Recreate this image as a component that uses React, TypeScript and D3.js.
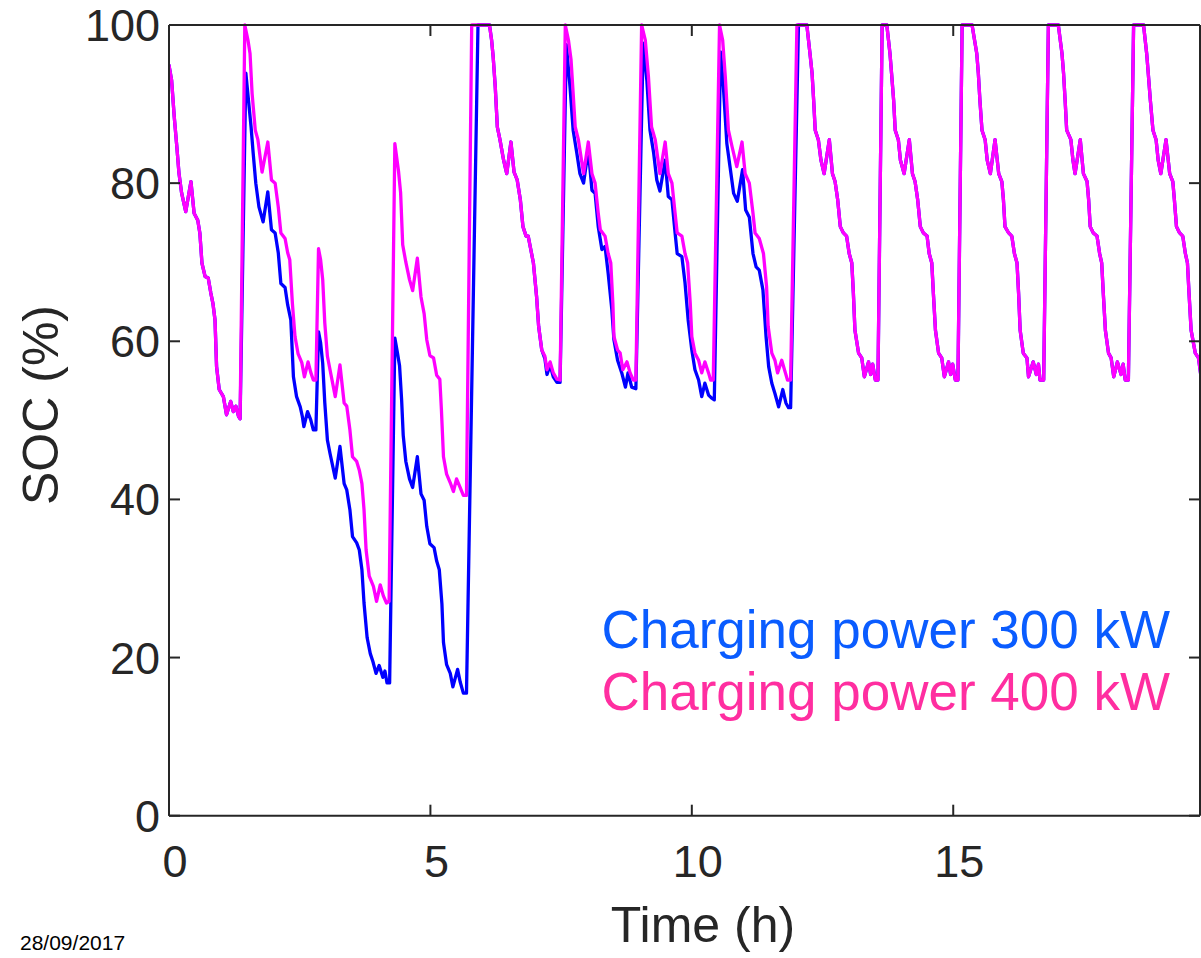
import React from "react";
import * as d3 from "d3";

// ---- Data (time in hours, SOC in %) ----
// First trip: identical for both charging powers
const tripShared: [number, number][] = [
  [0.0, 94.9], [0.05, 93], [0.1, 88.4], [0.15, 84.6], [0.19, 81.3], [0.24, 78.8], [0.32, 76.4],
  [0.42, 80.2], [0.48, 76.2], [0.55, 75.3], [0.59, 73.7], [0.63, 69.9], [0.69, 68.2], [0.75, 68],
  [0.8, 66.1], [0.84, 64.8], [0.88, 62.7], [0.91, 56.8], [0.96, 53.9], [1.04, 53], [1.1, 50.7],
  [1.18, 52.4], [1.23, 51.1], [1.28, 51.8], [1.33, 50.5], [1.36, 50.2],
];

// 400 kW until 12.2 h
const soc400Mid: [number, number][] = [
  [1.45, 100], [1.51, 98.1], [1.55, 96.4], [1.59, 91.3], [1.65, 86.7], [1.7, 85.5], [1.78, 81.4],
  [1.89, 85.2], [1.96, 80.4], [2.03, 80], [2.09, 77], [2.14, 73.7], [2.22, 73], [2.27, 71.2],
  [2.31, 70.3], [2.36, 64.8], [2.41, 60.6], [2.47, 58.4], [2.54, 57.3], [2.59, 55.5], [2.66, 57.4],
  [2.71, 56.1], [2.76, 55.1], [2.81, 55.1], [2.86, 71.7], [2.9, 70.3], [2.94, 67.8], [2.98, 62.3],
  [3.03, 58.1], [3.08, 56.4], [3.18, 53], [3.27, 57], [3.35, 52.2], [3.4, 51.8], [3.46, 48.8],
  [3.51, 45.4], [3.59, 44.8], [3.64, 43.7], [3.69, 42], [3.73, 38.7], [3.77, 33.6], [3.83, 30.3],
  [3.91, 29], [3.97, 27.1], [4.04, 29.2], [4.1, 27.8], [4.16, 26.9], [4.21, 27.1], [4.32, 85],
  [4.39, 81.5], [4.43, 78.8], [4.47, 72.2], [4.53, 70], [4.6, 67.8], [4.66, 66.4], [4.75, 70.5],
  [4.82, 65.6], [4.88, 63.5], [4.93, 60.2], [4.99, 58.2], [5.06, 57.9], [5.12, 55.7], [5.18, 55.2],
  [5.21, 51.4], [5.25, 45.4], [5.31, 43.2], [5.38, 42.1], [5.44, 41], [5.5, 42.6], [5.57, 41.5],
  [5.63, 40.5], [5.69, 40.5], [5.79, 100], [6.13, 100], [6.17, 98.1], [6.2, 96], [6.24, 92.2],
  [6.28, 87.1], [6.33, 85.5], [6.4, 82.9], [6.46, 81.2], [6.54, 85.2], [6.6, 81.4], [6.66, 80.4],
  [6.72, 77.9], [6.77, 74.5], [6.83, 73.3], [6.87, 73.3], [6.92, 71.6], [6.97, 69.9], [7.03, 65.7],
  [7.07, 61.9], [7.13, 58.9], [7.19, 58.1], [7.23, 56.4], [7.29, 57.4], [7.35, 56], [7.42, 55.2],
  [7.48, 55.1], [7.58, 100], [7.64, 98.1], [7.69, 95.6], [7.73, 91.4], [7.77, 87.1], [7.83, 85.5],
  [7.93, 81.2], [8.02, 85.2], [8.09, 81.2], [8.15, 80], [8.21, 76.2], [8.25, 74.1], [8.34, 73.3],
  [8.4, 71.1], [8.45, 69.9], [8.49, 64.8], [8.51, 60.6], [8.58, 58.9], [8.63, 58.5], [8.68, 56.4],
  [8.76, 57.4], [8.82, 56], [8.88, 55.1], [8.93, 55.1], [9.04, 100], [9.11, 98.1], [9.17, 93.5],
  [9.23, 87.1], [9.3, 85.5], [9.39, 81.2], [9.49, 85.2], [9.55, 81.2], [9.62, 80], [9.68, 76.2],
  [9.72, 73.7], [9.81, 73.3], [9.87, 71.1], [9.92, 69.9], [9.97, 64.8], [10.0, 60.6], [10.06, 58.5],
  [10.13, 57.6], [10.19, 56], [10.25, 57.4], [10.32, 56], [10.36, 55.1], [10.41, 55.1], [10.53, 100],
  [10.59, 98.1], [10.64, 93.5], [10.7, 86.7], [10.77, 84.6], [10.86, 82.1], [10.96, 85.2],
  [11.02, 81.2], [11.1, 80], [11.17, 76.2], [11.21, 73.7], [11.29, 73], [11.37, 71.1], [11.43, 66.9],
  [11.46, 61.9], [11.53, 58.5], [11.59, 57.6], [11.64, 56], [11.72, 57.6], [11.79, 56], [11.83, 55.1],
  [11.89, 55.1], [12.01, 100],
];

// 300 kW until 12.2 h
const soc300Mid: [number, number][] = [
  [1.47, 93.9], [1.52, 90.5], [1.57, 87.1], [1.61, 83.8], [1.66, 80], [1.72, 77], [1.8, 75.1],
  [1.89, 78.9], [1.96, 74.1], [2.03, 73.7], [2.09, 71.2], [2.14, 67.3], [2.22, 66.8], [2.27, 64.6],
  [2.33, 62.7], [2.38, 55.5], [2.44, 53], [2.51, 51.7], [2.55, 50.5], [2.58, 49.2], [2.65, 51.1],
  [2.71, 50.1], [2.76, 48.8], [2.81, 48.8], [2.86, 61.2], [2.9, 59.8], [2.94, 57.2], [2.98, 52.2],
  [3.03, 47.5], [3.08, 45.8], [3.18, 42.7], [3.27, 46.7], [3.35, 42], [3.4, 41.2], [3.46, 38.7],
  [3.51, 35.3], [3.59, 34.5], [3.64, 33.6], [3.69, 31.1], [3.73, 26.9], [3.79, 22.5], [3.85, 20.5],
  [3.9, 19.5], [3.96, 18], [4.02, 19], [4.09, 17.5], [4.13, 18.3], [4.17, 16.8], [4.22, 16.8],
  [4.32, 60.4], [4.37, 58.5], [4.41, 56.9], [4.45, 52.5], [4.48, 48.1], [4.53, 44.8], [4.6, 42.6],
  [4.66, 41.5], [4.75, 45.4], [4.82, 40.7], [4.88, 39.9], [4.93, 36.6], [4.99, 34.4], [5.07, 33.9],
  [5.12, 32.2], [5.17, 31.1], [5.22, 26.8], [5.25, 21.9], [5.31, 19.1], [5.38, 18], [5.43, 16.3],
  [5.52, 18.5], [5.57, 16.9], [5.63, 15.5], [5.69, 15.5], [5.91, 100], [6.13, 100], [6.17, 98.1],
  [6.2, 96], [6.24, 92.2], [6.28, 87.1], [6.33, 85.5], [6.4, 82.9], [6.46, 81.2], [6.54, 85.2],
  [6.6, 81.4], [6.66, 80.4], [6.72, 77.9], [6.77, 74.5], [6.83, 73.3], [6.87, 73.3], [6.92, 71.6],
  [6.97, 69.9], [7.03, 65.7], [7.07, 61.9], [7.13, 58.9], [7.19, 57.8], [7.23, 55.8], [7.29, 57],
  [7.35, 55.5], [7.42, 54.8], [7.48, 54.8], [7.6, 97.5], [7.67, 92.2], [7.73, 86.7], [7.8, 83.8],
  [7.86, 81.2], [7.93, 80], [8.02, 84.2], [8.09, 79.1], [8.15, 78.7], [8.21, 74.5], [8.28, 71.6],
  [8.34, 72], [8.4, 68.6], [8.47, 64], [8.51, 60.2], [8.58, 57.6], [8.66, 56], [8.73, 54.2],
  [8.78, 56], [8.85, 54.2], [8.93, 54], [9.07, 97.7], [9.14, 93], [9.2, 86.7], [9.27, 83.8],
  [9.33, 80.4], [9.39, 79], [9.49, 82.9], [9.55, 78.3], [9.62, 77.9], [9.68, 73.7], [9.72, 71.1],
  [9.81, 70.7], [9.87, 67.4], [9.93, 62.7], [10.0, 58.9], [10.06, 56.4], [10.13, 55.1], [10.19, 53],
  [10.25, 54.7], [10.32, 53.2], [10.38, 52.8], [10.43, 52.6], [10.55, 96.6], [10.6, 92.6],
  [10.67, 85], [10.73, 82.1], [10.8, 78.7], [10.87, 77.7], [10.97, 81.7], [11.03, 76.6],
  [11.1, 75.7], [11.17, 71.1], [11.23, 69.4], [11.29, 69], [11.36, 66.5], [11.42, 60.6],
  [11.47, 56.8], [11.53, 54.7], [11.59, 53.4], [11.66, 51.7], [11.74, 53.9], [11.8, 52.2],
  [11.85, 51.6], [11.89, 51.6], [12.04, 100],
];

// From 12.2 h both charging powers follow the same trace
const lateShared: [number, number][] = [
  [12.2, 100], [12.26, 96.4], [12.3, 93.9], [12.33, 90.5], [12.36, 86.7], [12.42, 85.5], [12.47, 82.9],
  [12.53, 81.2], [12.63, 85.5], [12.69, 81.2], [12.74, 80.2], [12.79, 77.9], [12.84, 74.5],
  [12.9, 73.7], [12.96, 73.3], [13.01, 71.1], [13.06, 69.9], [13.09, 66.1], [13.12, 61.4],
  [13.19, 58.5], [13.25, 57.9], [13.3, 55.5], [13.38, 57.4], [13.42, 55.8], [13.46, 57.1],
  [13.51, 55.1], [13.56, 55.1], [13.64, 100], [13.73, 100], [13.79, 96.4], [13.82, 93.9],
  [13.86, 90.5], [13.89, 86.7], [13.95, 85.5], [13.99, 82.9], [14.06, 81.2], [14.16, 85.5],
  [14.22, 81.2], [14.27, 80.2], [14.32, 77.9], [14.37, 74.5], [14.43, 73.7], [14.5, 73.3],
  [14.54, 71.1], [14.59, 69.9], [14.62, 66.1], [14.66, 61.4], [14.72, 58.5], [14.78, 57.9],
  [14.83, 55.5], [14.91, 57.4], [14.95, 55.8], [14.99, 57.1], [15.04, 55.1], [15.09, 55.1],
  [15.17, 100], [15.36, 100], [15.45, 96.4], [15.48, 93.9], [15.51, 90.5], [15.55, 86.7],
  [15.61, 85.5], [15.65, 82.9], [15.71, 81.2], [15.8, 85.5], [15.87, 81.2], [15.93, 80.2],
  [15.96, 77.9], [15.99, 74.5], [16.06, 73.7], [16.12, 73.3], [16.17, 71.1], [16.22, 69.9],
  [16.25, 66.1], [16.28, 61.4], [16.34, 58.5], [16.41, 57.9], [16.44, 55.5], [16.53, 57.4],
  [16.59, 55.8], [16.63, 57.1], [16.66, 55.1], [16.73, 55.1], [16.82, 100], [17.01, 100],
  [17.08, 96.4], [17.11, 93.9], [17.14, 90.5], [17.17, 86.7], [17.25, 85.5], [17.29, 82.9],
  [17.33, 81.2], [17.43, 85.5], [17.49, 81.2], [17.56, 80.2], [17.59, 77.9], [17.62, 74.5],
  [17.68, 73.7], [17.75, 73.3], [17.8, 71.1], [17.84, 69.9], [17.87, 66.1], [17.91, 61.4],
  [17.97, 58.5], [18.02, 57.9], [18.07, 55.5], [18.14, 57.4], [18.21, 55.8], [18.25, 57.1],
  [18.29, 55.1], [18.35, 55.1], [18.45, 100], [18.64, 100], [18.7, 96.4], [18.73, 93.9],
  [18.77, 90.5], [18.82, 86.7], [18.88, 85.5], [18.92, 82.9], [18.97, 81.2], [19.07, 85.5],
  [19.14, 81.2], [19.2, 80.2], [19.23, 77.9], [19.27, 74.5], [19.33, 73.7], [19.39, 73.3],
  [19.44, 71.1], [19.48, 69.9], [19.51, 66.1], [19.55, 61.4], [19.63, 58.5], [19.69, 57.9],
  [19.74, 55.5], [19.78, 55.2],
];

const xTicks = [0, 5, 10, 15];
const yTicks = [0, 20, 40, 60, 80, 100];
const legendLabels = ["Charging power 300 kW", "Charging power 400 kW"];
const xTitle = "Time (h)";
const yTitle = "SOC (%)";
const dateLabel = "28/09/2017";

const W = 1201;
const H = 958;
const M = { left: 169, right: 1200, top: 25, bottom: 815.7 };
const FONT = "'Liberation Sans', Arial, Helvetica, sans-serif";
const AXIS = "#262626";

export default function App() {
  const x = d3.scaleLinear().domain([0, 19.72]).range([M.left, M.right]);
  const y = d3.scaleLinear().domain([0, 100]).range([M.bottom, M.top]);
  const line = d3
    .line<[number, number]>()
    .x((d) => x(d[0]))
    .y((d) => y(d[1]));

  const s300 = [...tripShared, ...soc300Mid, ...lateShared];
  const s400 = [...tripShared, ...soc400Mid, ...lateShared];

  return (
    <svg
      width={W}
      height={H}
      style={{ position: "absolute", left: 0, top: 0, display: "block", background: "#fff" }}
      fontFamily={FONT}
    >
      <defs>
        <clipPath id="plotclip">
          <rect x={M.left} y={M.top - 3} width={M.right - M.left} height={M.bottom - M.top + 6} />
        </clipPath>
      </defs>
      <rect x={0} y={0} width={W} height={H} fill="#fff" />

      <g clipPath="url(#plotclip)" fill="none" strokeLinejoin="round" strokeLinecap="round">
        <path d={line(s300) || ""} stroke="#0000ff" strokeWidth={3.3} />
        <path d={line(s400) || ""} stroke="#ff00ff" strokeWidth={3.3} />
      </g>

      {/* axes box */}
      <g stroke={AXIS} strokeWidth={2} fill="none">
        <line x1={M.left} x2={M.left} y1={M.top} y2={M.bottom} />
        <line x1={M.left} x2={M.right} y1={M.bottom} y2={M.bottom} />
        <line x1={M.left} x2={M.right} y1={M.top} y2={M.top} />
        <line x1={M.right} x2={M.right} y1={M.top} y2={M.bottom} />
        {yTicks.map((t) => (
          <g key={"yt" + t}>
            <line x1={M.left} x2={M.left + 11} y1={y(t)} y2={y(t)} />
            <line x1={M.right} x2={M.right - 11} y1={y(t)} y2={y(t)} />
          </g>
        ))}
        {xTicks.map((t) => (
          <g key={"xt" + t}>
            <line x1={x(t)} x2={x(t)} y1={M.bottom} y2={M.bottom - 11} />
            <line x1={x(t)} x2={x(t)} y1={M.top} y2={M.top + 11} />
          </g>
        ))}
      </g>

      {/* tick labels */}
      <g fill={AXIS} fontSize={45}>
        {yTicks.map((t) => (
          <text key={"yl" + t} x={M.left - 9} y={y(t) + 16} textAnchor="end">
            {t}
          </text>
        ))}
        {xTicks.map((t) => (
          <text key={"xl" + t} x={x(t) + 6} y={877} textAnchor="middle">
            {t}
          </text>
        ))}
      </g>

      {/* axis titles */}
      <text x={703} y={942} textAnchor="middle" fontSize={50} fill={AXIS}>
        {xTitle}
      </text>
      <text
        transform={`translate(58, 405) rotate(-90)`}
        textAnchor="middle"
        fontSize={50}
        fill={AXIS}
      >
        {yTitle}
      </text>

      {/* legend */}
      <text x={1170} y={648} textAnchor="end" fontSize={53} fill="#0a5cff">
        {legendLabels[0]}
      </text>
      <text x={1170} y={710} textAnchor="end" fontSize={53} fill="#ff2ea0">
        {legendLabels[1]}
      </text>

      {/* date stamp */}
      <text x={20} y={950} fontSize={21} fill="#000">
        {dateLabel}
      </text>
    </svg>
  );
}
